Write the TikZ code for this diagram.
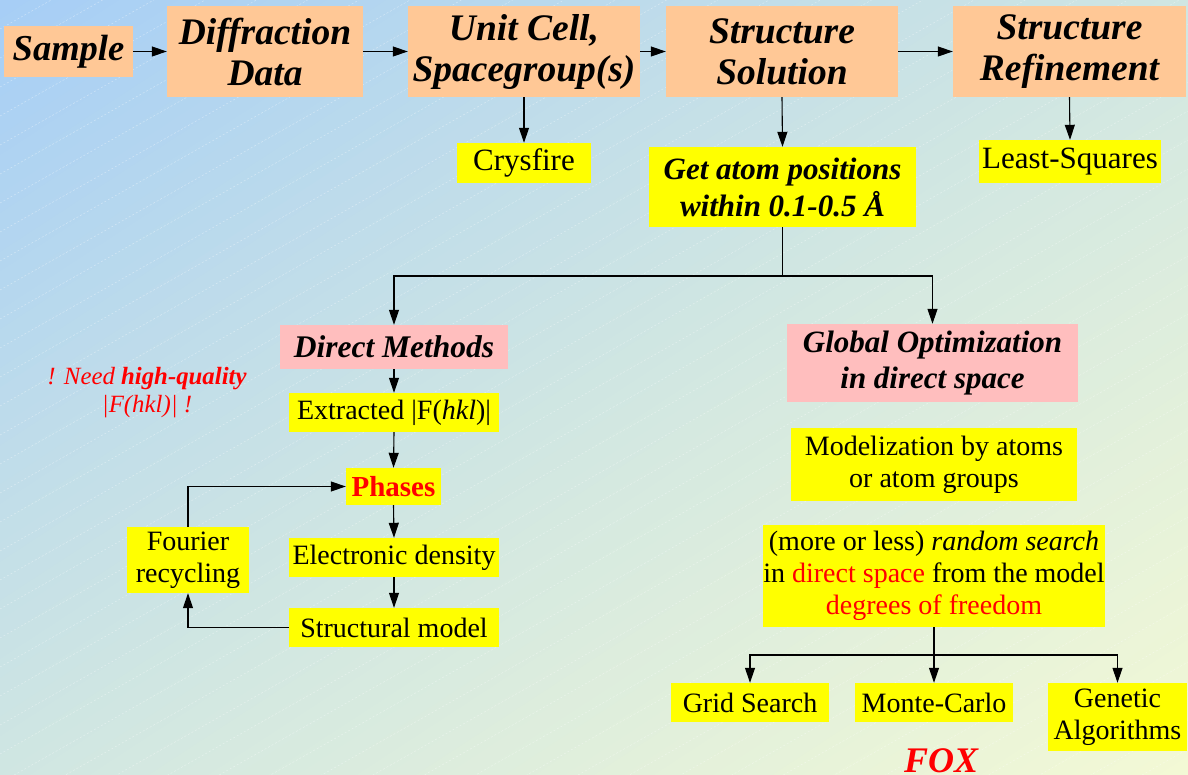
\documentclass[tikz,border=0pt]{standalone}
\usepackage{fontspec}
\setmainfont{Liberation Serif}
\usetikzlibrary{arrows.meta}
\definecolor{peachc}{RGB}{255,200,150}
\definecolor{pinkc}{RGB}{255,190,190}
\definecolor{yelc}{RGB}{255,255,0}
\definecolor{bgA}{RGB}{166,206,246}
\definecolor{bgM}{RGB}{208,230,226}
\definecolor{bgB}{RGB}{243,249,213}
\definecolor{redc}{RGB}{255,0,0}
\begin{document}
\begin{tikzpicture}[x=1pt,y=-1pt,
  wh/.style 2 args={minimum width=#1pt, minimum height=#2pt},
  box/.style={inner sep=0pt, align=center, text=black},
  peach/.style={box, fill=peachc, font=\fontsize{37.5}{41}\selectfont\bfseries\itshape},
  pinkbox/.style={box, fill=pinkc},
  ybox/.style={box, fill=yelc, font=\fontsize{28}{32}\selectfont},
  arr/.style={-{Triangle[length=15pt,width=10pt]}, line width=1.1pt, draw=black},
  plain/.style={line width=1.1pt, draw=black}
]
\useasboundingbox (0,0) rectangle (1188,775);
\begin{scope}
\clip (0,0) rectangle (1188,775);
\foreach \i in {0,...,79} {
  \pgfmathsetmacro{\ta}{\i/40}
  \pgfmathsetmacro{\tb}{(\i+1.2)/40}
  \ifnum\i<40
    \pgfmathsetmacro{\pc}{(\i+0.5)*2.5}
    \fill[color=bgM!\pc!bgA] (\ta*1188,0) -- (\tb*1188,0) -- (0,\tb*775) -- (0,\ta*775) -- cycle;
  \else
    \pgfmathsetmacro{\pc}{(\i-39.5)*2.5}
    \fill[color=bgB!\pc!bgM] (\ta*1188,0) -- (\tb*1188,0) -- (0,\tb*775) -- (0,\ta*775) -- cycle;
  \fi
}
\foreach \c in {0,29,...,1480} {
  \draw[white, opacity=0.4, line width=0.5pt, dash pattern=on 2pt off 2pt] (0,\c) -- (1188,\c-672);
}
\end{scope}

% top row
\node[peach, wh={129}{51}, font=\fontsize{36.5}{41}\selectfont\bfseries\itshape] (sample) at (68.5,51.5) {Sample};
\node[peach, wh={196}{91}] (diff) at (265,51.5) {Diffraction\\Data};
\node[peach, wh={232}{91}] (unit) at (524,51.5) {Unit Cell,\\Spacegroup(s)};
\node[peach, wh={232}{91}] (sol) at (782,51.5) {Structure\\Solution};
\node[peach, wh={233}{91}] (ref) at (1069.5,51.5) {Structure\\Refinement};

\node[ybox, wh={134}{40}, font=\fontsize{31}{34}\selectfont] (crys) at (524,163) {Crysfire};
\node[ybox, wh={267}{80}, font=\fontsize{31}{37}\selectfont\bfseries\itshape] (getatom) at (782.5,187) {Get atom positions\\within 0.1-0.5 Å};
\node[ybox, wh={182}{43}, font=\fontsize{31}{34}\selectfont] (lsq) at (1070,161.5) {Least-Squares};

% second level
\node[pinkbox, wh={228}{44}, font=\fontsize{31.5}{36}\selectfont\bfseries\itshape] (dm) at (394,347) {Direct Methods};
\node[pinkbox, wh={291}{78}, font=\fontsize{31}{36}\selectfont\bfseries\itshape] (go) at (932.5,363) {Global Optimization\\in direct space};

% left column
\node[ybox, wh={210}{39}] (extr) at (394,412.5) {Extracted |F(\textit{hkl})|};
\node[ybox, wh={95}{37}, font=\fontsize{29}{32}\selectfont\bfseries, text=redc] (phases) at (393.5,486.5) {Phases};
\node[ybox, wh={210}{39}] (eden) at (394,557.5) {Electronic density};
\node[ybox, wh={210}{39}] (smodel) at (394,627.5) {Structural model};
\node[ybox, wh={122}{66}] (fourier) at (188,560) {Fourier\\recycling};

\node[box, font=\fontsize{24.8}{28}\selectfont\itshape, text=redc] (note) at (147,393) {! Need \textbf{high-quality}\\|F(hkl)| !};

% right column
\node[ybox, wh={286}{73}] (model) at (934,464.5) {Modelization by atoms\\or atom groups};
\node[ybox, wh={342}{102}] (random) at (934,576) {(more or less) \textit{random search}\\in \textcolor{redc}{direct space} from the model\\\textcolor{redc}{degrees of freedom}};
\node[ybox, wh={158}{39}] (grid) at (750,702.5) {Grid Search};
\node[ybox, wh={158}{39}] (monte) at (934,702.5) {Monte-Carlo};
\node[ybox, wh={139}{68}] (genetic) at (1117.5,717) {Genetic\\Algorithms};

\node[box, anchor=base, font=\fontsize{36}{41}\selectfont\bfseries\itshape, text=redc] (fox) at (941,772) {FOX};

% connectors
\draw[arr] (sample) -- (diff);
\draw[arr] (diff) -- (unit);
\draw[arr] (unit) -- (sol);
\draw[arr] (sol) -- (ref);
\draw[arr] (unit.south) -- (crys.north);
\draw[arr] (sol.south) -- (getatom.north);
\draw[arr] (ref.south) -- (lsq.north);

\coordinate (j) at (782.5,276);
\draw[plain] (getatom.south) -- (j);
\draw[arr] (j) -| (dm.north);
\draw[arr] (j) -| (go.north);

\draw[arr] (dm.south) -- (extr.north);
\draw[arr] (extr.south) -- (phases.north);
\draw[arr] (phases.south) -- (eden.north);
\draw[arr] (eden.south) -- (smodel.north);
\draw[arr] (smodel.west) -| (fourier.south);
\draw[arr] (fourier.north) |- (phases.west);

\coordinate (k) at (934,655);
\draw[plain] (random.south) -- (k);
\draw[arr] (k) -- (monte.north);
\draw[arr] (k) -| (grid.north);
\draw[arr] (k) -| (genetic.north);
\end{tikzpicture}
\end{document}
